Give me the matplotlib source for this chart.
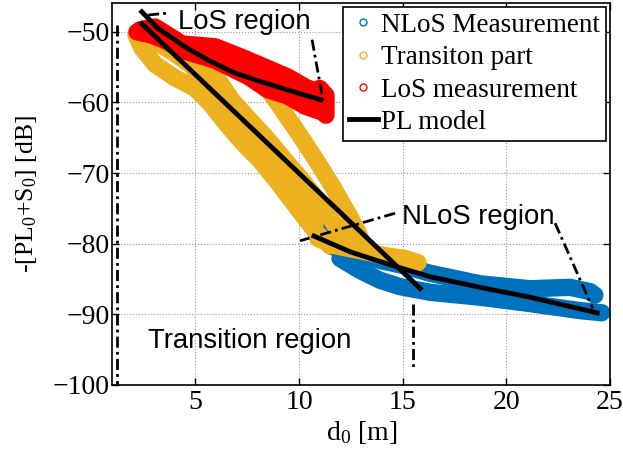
import matplotlib
matplotlib.use("Agg")
import matplotlib.pyplot as plt
from matplotlib.lines import Line2D

# FONTS (TIMES LIKE AXES, HELVETICA LIKE ANNOTATIONS)
plt.rcParams['font.family'] = 'Liberation Serif'
plt.rcParams['mathtext.fontset'] = 'custom'
plt.rcParams['mathtext.rm'] = 'Liberation Serif'
plt.rcParams['mathtext.it'] = 'Liberation Serif:italic'
plt.rcParams['xtick.labelsize'] = 20
plt.rcParams['ytick.labelsize'] = 20

# COLORS
c_nlos = "#0072BD"
c_tran = "#EDB120"
c_los = "#FF0000"

# NLOS MEASUREMENT TRACKS  (d0 [m], -[PL0+S0] [dB])
nlos_thin_x = [10.63, 11.11, 11.74, 12.36, 13.00]
nlos_thin_y = [-74.2, -76.9, -79.4, -81.1, -82.0]
nlos_top_x = [11.50, 12.46, 13.91, 14.87, 16.32, 18.73, 21.14, 22.10, 23.07, 24.03, 24.27]
nlos_top_y = [-80.3, -81.3, -82.4, -83.0, -84.2, -85.7, -86.4, -86.3, -86.2, -86.8, -87.3]
nlos_bot_x = [11.98, 12.94, 13.91, 14.87, 16.32, 18.73, 21.14, 22.59, 23.55, 24.60]
nlos_bot_y = [-82.1, -83.8, -85.2, -86.1, -86.9, -87.6, -88.5, -89.1, -89.5, -89.8]

# TRANSITION PART TRACKS
tr1_x = [2.14, 2.43, 3.06, 4.02, 4.99, 5.71, 6.43, 7.25, 8.12, 8.89, 9.57, 10.19, 10.82, 11.50]
tr1_y = [-50.4, -52.3, -54.6, -56.5, -58.0, -60.1, -62.8, -65.6, -68.2, -71.0, -73.6, -76.0, -78.4, -80.3]
tr2_x = [2.24, 3.06, 3.88, 4.75, 5.47, 6.19, 6.92, 7.74, 8.51, 9.18, 9.81, 10.29, 10.77]
tr2_y = [-50.0, -51.4, -52.8, -54.6, -56.8, -59.7, -62.2, -64.4, -66.8, -69.6, -72.4, -75.3, -77.4]
tr3_x = [5.47, 6.10, 6.77, 7.64, 8.51, 9.33, 10.15, 10.92, 11.64, 12.22]
tr3_y = [-55.1, -56.8, -59.7, -62.5, -65.3, -68.2, -71.0, -73.9, -77.0, -79.6]
tr4_x = [7.64, 8.60, 9.47, 10.19, 10.92, 11.64, 12.36, 12.80, 13.04]
tr4_y = [-56.1, -58.5, -62.2, -65.3, -68.6, -72.0, -75.7, -78.1, -79.8]
tr5_x = [10.92, 11.74, 12.94, 14.15, 15.11, 15.74]
tr5_y = [-79.3, -80.3, -81.0, -81.7, -82.1, -82.7]

# LOS MEASUREMENT TRACKS
los_top_x = [2.34, 3.06, 4.36, 5.95, 7.25, 8.36, 9.47, 10.29, 11.11]
los_top_y = [-49.7, -49.3, -51.7, -52.1, -53.6, -55.0, -56.4, -57.8, -58.8]
los_mid_x = [2.58, 4.36, 5.95, 7.54, 8.84, 10.05, 11.01]
los_mid_y = [-50.1, -52.1, -53.1, -54.8, -56.5, -58.0, -59.0]
los_bot_x = [2.19, 3.20, 4.36, 5.95, 7.54, 8.51, 9.47, 10.29, 11.25]
los_bot_y = [-50.0, -50.6, -52.6, -54.0, -56.3, -58.2, -59.1, -60.5, -61.5]
los_end_x = [11.0, 11.3, 11.3]
los_end_y = [-58.0, -59.0, -61.8]

# PL MODELS
pl_los_x = [2.34, 3.2, 4.6, 5.7, 6.8, 8.0, 9.0, 10.1, 11.16]
pl_los_y = [-46.9, -49.5, -52.3, -54.1, -55.7, -56.9, -57.8, -58.8, -59.7]
pl_tr_x = [2.34, 15.93]
pl_tr_y = [-48.6, -86.6]
pl_nlos_x = [10.62, 12.5, 14.4, 16.32, 18.73, 21.14, 24.5]
pl_nlos_y = [-78.8, -81.2, -83.0, -84.7, -86.2, -87.6, -89.9]

# LEADER LINES OF THE REGION LABELS
leaders = [([2.72, 3.78], [-47.6, -47.3]),
           ([10.63, 11.16], [-51.1, -59.7]),
           ([14.63, 10.05], [-75.7, -79.6]),
           ([22.35, 24.17], [-77.1, -89.2]),
           ([1.21, 1.21], [-49.0, -99.9]),
           ([15.52, 15.52], [-88.5, -97.6])]

fig = plt.figure(figsize=(6.23, 4.57), dpi=100)
ax = fig.add_axes([0.1803, 0.1582, 0.7989, 0.8352])

band = dict(lw=12.5, solid_capstyle="round", solid_joinstyle="round")

# NLOS (BOTTOM)
for xs, ys in [(nlos_thin_x, nlos_thin_y), (nlos_top_x, nlos_top_y), (nlos_bot_x, nlos_bot_y)]:
    ax.plot(xs, ys, color=c_nlos, **band)

# TRANSITION
for xs, ys in [(tr1_x, tr1_y), (tr2_x, tr2_y), (tr3_x, tr3_y), (tr4_x, tr4_y), (tr5_x, tr5_y)]:
    ax.plot(xs, ys, color=c_tran, **band)

# LOS (TOP)
for xs, ys in [(los_top_x, los_top_y), (los_mid_x, los_mid_y), (los_bot_x, los_bot_y), (los_end_x, los_end_y)]:
    ax.plot(xs, ys, color=c_los, **band)

# MODELS
for xs, ys in [(pl_los_x, pl_los_y), (pl_tr_x, pl_tr_y), (pl_nlos_x, pl_nlos_y)]:
    ax.plot(xs, ys, color="k", lw=3.5, solid_capstyle="butt")

for xs, ys in leaders:
    ax.plot(xs, ys, color="k", lw=2, linestyle=(0, (4, 1.5, 1, 1.5)))

# REGION LABELS
sans = dict(family="Liberation Sans", fontsize=19.8, va="center", ha="left")
ax.text(4.17, -48.6, "LoS region", **sans)
ax.text(14.95, -76.2, "NLoS region", **sans)
ax.text(2.73, -93.75, "Transition region", **sans)

ax.set_xlim(1, 25)
ax.set_ylim(-100, -45.9)
ax.set_xticks([5, 10, 15, 20, 25])
ax.set_yticks([-100, -90, -80, -70, -60, -50])
ax.tick_params(direction="in", top=True, right=True, length=5, width=1)
ax.tick_params(axis="y", pad=2)
ax.grid(True, linestyle=":", color="#999999", lw=0.8)
for s in ax.spines.values():
    s.set_linewidth(1.2)

ax.set_xlabel("d$_0$ [m]", fontsize=20, labelpad=3)
ax.set_ylabel("-[PL$_0$+S$_0$] [dB]", fontsize=18.5, labelpad=10)

# LEGEND
h1 = Line2D([0], [0], linestyle="none", marker="o", ms=5, mfc="none", mec=c_nlos, mew=1)
h2 = Line2D([0], [0], linestyle="none", marker="o", ms=5, mfc="none", mec=c_tran, mew=1)
h3 = Line2D([0], [0], linestyle="none", marker="o", ms=5, mfc="none", mec=c_los, mew=1)
h4 = Line2D([0], [0], color="k", lw=3.5)
leg = ax.legend(handles=[h1, h2, h3, h4],
                labels=["NLoS Measurement", "Transiton part", "LoS measurement", "PL model"],
                loc="upper right", bbox_to_anchor=(606 / 623, 1 - 7 / 457),
                bbox_transform=fig.transFigure, borderaxespad=0,
                fontsize=19.5, fancybox=False, framealpha=1, edgecolor="k",
                handlelength=1.07, handletextpad=0.12, labelspacing=0.27, borderpad=0.22)
leg.get_frame().set_linewidth(1.2)

fig.savefig("out.png", dpi=100)
